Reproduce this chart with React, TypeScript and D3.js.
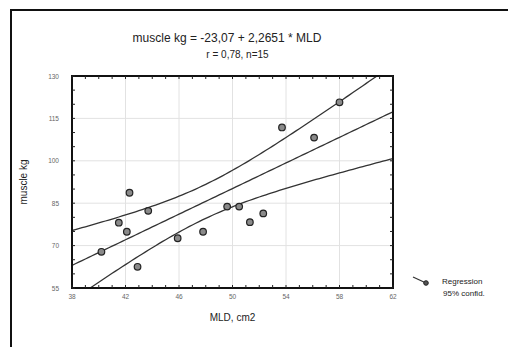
import React, { useEffect, useRef } from 'react';
import * as d3 from 'd3';

// MLD (cm2) and muscle (kg)
const mld = [40.2, 41.5, 42.1, 42.3, 42.9, 43.7, 45.9, 47.8, 49.6, 50.5, 51.3, 52.3, 53.7, 56.1, 58.0];
const muscle = [67.8, 78.1, 74.9, 88.7, 62.5, 82.3, 72.6, 74.9, 83.8, 83.8, 78.3, 81.4, 111.8, 108.2, 120.7];

const xTicks = [38, 42, 46, 50, 54, 58, 62];
const yTicks = [55, 70, 85, 100, 115, 130];

const intercept = -23.07;
const slope = 2.2651;

const App: React.FC = () => {
  const svgRef = useRef<SVGSVGElement | null>(null);

  useEffect(() => {
    if (!svgRef.current) return;
    const width = 508;
    const height = 347;
    const plot = { left: 72, right: 393, top: 76, bottom: 288 };

    const svg = d3.select(svgRef.current);
    svg.selectAll('*').remove();

    const x = d3.scaleLinear().domain([38, 62]).range([plot.left, plot.right]);
    const y = d3.scaleLinear().domain([55, 130]).range([plot.bottom, plot.top]);

    svg.append('rect').attr('width', width).attr('height', height).attr('fill', '#fff');
    // outer frame
    svg.append('rect')
      .attr('x', 11).attr('y', 10).attr('width', width + 20).attr('height', height + 20)
      .attr('fill', 'none').attr('stroke', '#111').attr('stroke-width', 2);

    const font = 'Liberation Sans, Arial, sans-serif';

    // --- title ---
    const cx = (plot.left + plot.right) / 2;
    svg.append('text').attr('x', 227).attr('y', 42).attr('text-anchor', 'middle')
      .attr('font-family', font).attr('font-size', 12).attr('fill', '#222')
      .text('muscle kg = -23,07 + 2,2651 * MLD');
    svg.append('text').attr('x', cx + 5).attr('y', 58).attr('text-anchor', 'middle')
      .attr('font-family', font).attr('font-size', 10).attr('fill', '#222')
      .text('r = 0,78, n=15');

    // --- grid ---
    const g = svg.append('g');
    g.selectAll('.vg').data(xTicks).enter().append('line')
      .attr('x1', d => x(d)).attr('x2', d => x(d))
      .attr('y1', plot.top).attr('y2', plot.bottom)
      .attr('stroke', '#e2e2e2').attr('stroke-width', 1);
    g.selectAll('.hg').data(yTicks).enter().append('line')
      .attr('y1', d => y(d)).attr('y2', d => y(d))
      .attr('x1', plot.left).attr('x2', plot.right)
      .attr('stroke', '#e2e2e2').attr('stroke-width', 1);

    // --- regression + 95% confidence band ---
    const n = mld.length;
    const xbar = d3.mean(mld) as number;
    const sxx = d3.sum(mld, v => (v - xbar) ** 2);
    const sse = d3.sum(mld.map((v, i) => (muscle[i] - (intercept + slope * v)) ** 2));
    const s = Math.sqrt(sse / (n - 2));
    const t = 2.16;
    const xs = d3.range(38, 62.01, 0.25);
    const hw = (v: number) => t * s * Math.sqrt(1 / n + (v - xbar) ** 2 / sxx);

    svg.append('clipPath').attr('id', 'clip').append('rect')
      .attr('x', plot.left).attr('y', plot.top)
      .attr('width', plot.right - plot.left).attr('height', plot.bottom - plot.top);

    const line = d3.line<number[]>().x(d => x(d[0])).y(d => y(d[1]));
    const lines = [
      xs.map(v => [v, intercept + slope * v]),
      xs.map(v => [v, intercept + slope * v + hw(v)]),
      xs.map(v => [v, intercept + slope * v - hw(v)]),
    ];
    const lg = svg.append('g').attr('clip-path', 'url(#clip)');
    lines.forEach(pts => {
      lg.append('path').attr('d', line(pts)).attr('fill', 'none')
        .attr('stroke', '#333').attr('stroke-width', 1.3);
    });

    // --- points ---
    svg.selectAll('.pt').data(mld).enter().append('circle')
      .attr('cx', d => x(d)).attr('cy', (d, i) => y(muscle[i]))
      .attr('r', 3.3).attr('fill', '#8a8a8a').attr('stroke', '#222').attr('stroke-width', 1.2);

    // --- frame and ticks ---
    svg.append('rect')
      .attr('x', plot.left).attr('y', plot.top)
      .attr('width', plot.right - plot.left).attr('height', plot.bottom - plot.top)
      .attr('fill', 'none').attr('stroke', '#111').attr('stroke-width', 2);

    const xMinor = d3.range(38, 62.01, 1);
    const yMinor = d3.range(55, 130.01, 5);
    xMinor.forEach(v => {
      [plot.bottom, plot.top].forEach((yy, k) => {
        svg.append('line').attr('x1', x(v)).attr('x2', x(v))
          .attr('y1', yy).attr('y2', k === 0 ? yy - 3 : yy + 3)
          .attr('stroke', '#222').attr('stroke-width', 1);
      });
    });
    yMinor.forEach(v => {
      [plot.left, plot.right].forEach((xx, k) => {
        svg.append('line').attr('y1', y(v)).attr('y2', y(v))
          .attr('x1', xx).attr('x2', k === 0 ? xx + 3 : xx - 3)
          .attr('stroke', '#222').attr('stroke-width', 1);
      });
    });

    // --- tick labels ---
    svg.selectAll('.xl').data(xTicks).enter().append('text')
      .attr('x', d => x(d)).attr('y', 299).attr('text-anchor', 'middle')
      .attr('font-family', font).attr('font-size', 6.5).attr('fill', '#666')
      .text(d => d);
    svg.selectAll('.yl').data(yTicks).enter().append('text')
      .attr('x', 59).attr('y', d => y(d) + 2.5).attr('text-anchor', 'end')
      .attr('font-family', font).attr('font-size', 6.5).attr('fill', '#666')
      .text(d => d);

    // --- axis titles ---
    svg.append('text').attr('x', cx).attr('y', 321).attr('text-anchor', 'middle')
      .attr('font-family', font).attr('font-size', 10).attr('fill', '#222')
      .text('MLD, cm2');
    svg.append('text')
      .attr('transform', `translate(27, ${(plot.top + plot.bottom) / 2}) rotate(-90)`)
      .attr('text-anchor', 'middle')
      .attr('font-family', font).attr('font-size', 10).attr('fill', '#222')
      .text('muscle kg');

    // --- legend ---
    svg.append('line').attr('x1', 413).attr('y1', 277).attr('x2', 426).attr('y2', 283)
      .attr('stroke', '#333').attr('stroke-width', 1.3);
    svg.append('circle').attr('cx', 426).attr('cy', 283).attr('r', 2.3)
      .attr('fill', '#555').attr('stroke', '#222');
    svg.append('text').attr('x', 442).attr('y', 284)
      .attr('font-family', font).attr('font-size', 8).attr('fill', '#222').text('Regression');
    svg.append('text').attr('x', 443).attr('y', 296)
      .attr('font-family', font).attr('font-size', 8).attr('fill', '#222').text('95% confid.');
  }, []);

  return (
    <svg ref={svgRef} width={508} height={347}
      style={{ position: 'absolute', left: 0, top: 0, display: 'block' }} />
  );
};

export default App;
